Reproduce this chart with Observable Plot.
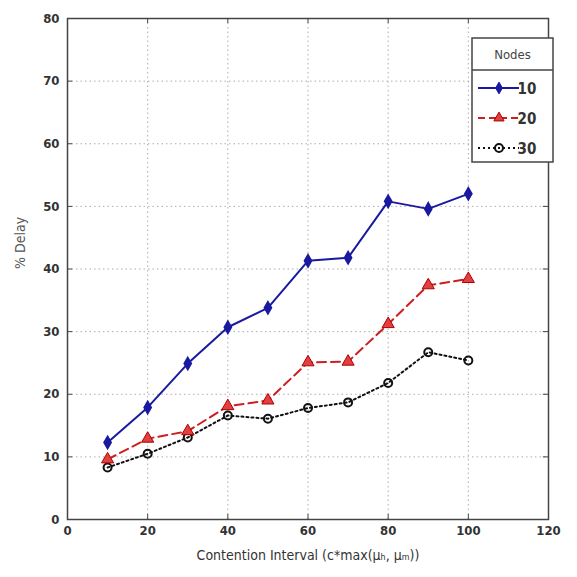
<!DOCTYPE html>
<html>
<head>
<meta charset="utf-8">
<script src="https://cdn.jsdelivr.net/npm/d3@7"></script>
<script src="https://cdn.jsdelivr.net/npm/@observablehq/plot@0.6"></script>
<style>
html,body{margin:0;padding:0;background:#fff;}
#chart{position:relative;width:577px;height:577px;}
</style>
</head>
<body>
<div id="chart"></div>
<script>
const xs = [10, 20, 30, 40, 50, 60, 70, 80, 90, 100];
const nodes10 = [12.3, 17.9, 24.9, 30.7, 33.8, 41.3, 41.8, 50.8, 49.6, 52.0];
const nodes20 = [9.6, 12.9, 14.1, 18.1, 19.0, 25.1, 25.2, 31.2, 37.4, 38.4];
const nodes30 = [8.3, 10.5, 13.1, 16.6, 16.1, 17.8, 18.7, 21.8, 26.7, 25.4];
const seriesNames = ["10", "20", "30"];
const xTicks = [0, 20, 40, 60, 80, 100, 120];
const yTicks = [0, 10, 20, 30, 40, 50, 60, 70, 80];

const d10 = xs.map((x, i) => ({x, y: nodes10[i]}));
const d20 = xs.map((x, i) => ({x, y: nodes20[i]}));
const d30 = xs.map((x, i) => ({x, y: nodes30[i]}));

const font = "'DejaVu Sans Condensed', 'DejaVu Sans', sans-serif";

const plot = Plot.plot({
  width: 577,
  height: 577,
  marginLeft: 67,
  marginRight: 29,
  marginTop: 18,
  marginBottom: 58,
  style: {fontFamily: font, fontSize: "13px", fontWeight: "bold", color: "#333", background: "#fff"},
  x: {domain: [0, 120], ticks: xTicks, label: null},
  y: {domain: [0, 80], ticks: yTicks, label: null},
  marks: [
    Plot.gridX(xTicks, {stroke: "#999", strokeOpacity: 0.8, strokeDasharray: "1.5,3"}),
    Plot.gridY(yTicks, {stroke: "#999", strokeOpacity: 0.8, strokeDasharray: "1.5,3"}),
    Plot.ruleX(xTicks, {x: d => d, y1: 0, y2: 0.8, stroke: "#444"}),
    Plot.ruleX(xTicks, {x: d => d, y1: 79.2, y2: 80, stroke: "#444"}),
    Plot.ruleY(yTicks, {y: d => d, x1: 0, x2: 1.3, stroke: "#444"}),
    Plot.ruleY(yTicks, {y: d => d, x1: 118.7, x2: 120, stroke: "#444"}),
    Plot.frame({stroke: "#444", strokeWidth: 1.5}),
    Plot.axisX(xTicks, {tickSize: 0, tickPadding: 6, fontSize: 13, fontWeight: "bold", fill: "#333"}),
    Plot.axisY(yTicks, {tickSize: 0, tickPadding: 8, fontSize: 13, fontWeight: "bold", fill: "#333"}),
    Plot.line(d30, {x: "x", y: "y", stroke: "#111", strokeWidth: 2, strokeDasharray: "2,3"}),
    Plot.line(d20, {x: "x", y: "y", stroke: "#cc1f1f", strokeWidth: 2, strokeDasharray: "9,5"}),
    Plot.line(d10, {x: "x", y: "y", stroke: "#1a1aa0", strokeWidth: 2}),
    Plot.dot(d30, {x: "x", y: "y", r: 4, stroke: "#111", strokeWidth: 2, fill: "none"}),
    Plot.dot(d20, {x: "x", y: "y", r: 4.5, symbol: "triangle", fill: "#e04040", stroke: "#b00000", strokeWidth: 1}),
    Plot.dot(d10, {x: "x", y: "y", r: 3.8, symbol: "diamond", fill: "#1a1aa0", stroke: "#1a1aa0"}),
    Plot.text(["% Delay"], {frameAnchor: "left", dx: -47, rotate: -90, fontSize: 14, fontWeight: "normal", fill: "#555"}),
    Plot.text(["Contention Interval (c*max(μ\u2095, μₘ))"], {frameAnchor: "bottom", dy: 40, fontSize: 14, fontWeight: "normal", fill: "#333"})
  ]
});
document.getElementById("chart").appendChild(plot);

// legend
const svg = d3.select(plot);
const lx = 472, ly = 38, lw = 81, lh = 124;
const g = svg.append("g").attr("font-family", font);
g.append("rect").attr("x", lx).attr("y", ly).attr("width", lw).attr("height", lh)
  .attr("fill", "#fff").attr("stroke", "#444").attr("stroke-width", 1.5);
g.append("line").attr("x1", lx).attr("x2", lx + lw).attr("y1", ly + 32).attr("y2", ly + 32)
  .attr("stroke", "#444").attr("stroke-width", 1.5);
g.append("text").attr("x", lx + lw / 2).attr("y", ly + 21).attr("text-anchor", "middle")
  .attr("font-size", 13).attr("font-weight", "normal").attr("fill", "#444").text("Nodes");
const styles = [
  {stroke: "#1a1aa0", dash: null, sym: d3.symbolDiamond, fill: "#1a1aa0", sstroke: "#1a1aa0", size: 40},
  {stroke: "#cc1f1f", dash: "7,4", sym: d3.symbolTriangle, fill: "#e04040", sstroke: "#b00000", size: 45},
  {stroke: "#111", dash: "2,3", sym: d3.symbolCircle, fill: "none", sstroke: "#111", size: 50}
];
seriesNames.forEach((name, i) => {
  const yy = ly + 50 + i * 30;
  const s = styles[i];
  const ln = g.append("line").attr("x1", lx + 6).attr("x2", lx + 47).attr("y1", yy).attr("y2", yy)
    .attr("stroke", s.stroke).attr("stroke-width", 2);
  if (s.dash) ln.attr("stroke-dasharray", s.dash);
  g.append("path").attr("d", d3.symbol(s.sym, s.size)()).attr("transform", `translate(${lx + 27},${yy})`)
    .attr("fill", s.fill).attr("stroke", s.sstroke).attr("stroke-width", i === 2 ? 2 : 1);
  g.append("text").attr("x", lx + 55).attr("y", yy + 5.5).attr("font-size", 15).attr("font-weight", "bold")
    .attr("fill", "#333").text(name);
});
</script>
</body>
</html>
